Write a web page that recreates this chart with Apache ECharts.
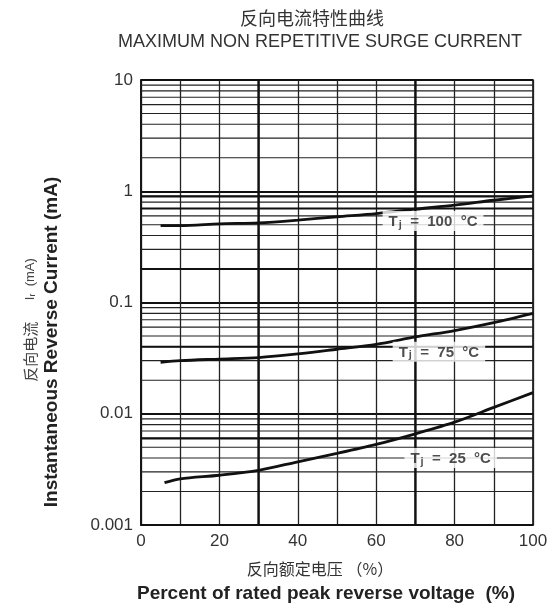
<!DOCTYPE html>
<html>
<head>
<meta charset="utf-8">
<script src="https://cdn.jsdelivr.net/npm/echarts@6/dist/echarts.min.js"></script>
<style>
html,body{margin:0;padding:0;background:#fff;}
#chart{width:553px;height:609px;}
</style>
</head>
<body>
<div id="chart"></div>
<script>
// ---- Data ----
var titleCn = '反向电流特性曲线';
var titleEn = 'MAXIMUM NON REPETITIVE SURGE CURRENT';
var xNameCn = '反向额定电压 （%）';
var xNameEn = 'Percent of rated peak reverse voltage  (%)';
var yNameEn = 'Instantaneous Reverse Current (mA)';
var yNameCn = '反向电流';

var yTickValues = [0.001, 0.01, 0.1, 1, 10];
var yTickLabels = ['0.001', '0.01', '0.1', '1', '10'];
var xTickValues = [0, 20, 40, 60, 80, 100];
var xTickLabels = ['0', '20', '40', '60', '80', '100'];

var x100 = [5, 10, 20, 30, 40, 50, 60, 70, 80, 90, 100];
var y100 = [0.49, 0.49, 0.51, 0.52, 0.55, 0.59, 0.63, 0.69, 0.75, 0.83, 0.91];

var x75 = [5, 10, 20, 30, 40, 50, 60, 70, 80, 90, 100];
var y75 = [0.029, 0.030, 0.031, 0.032, 0.0345, 0.038, 0.042, 0.049, 0.056, 0.066, 0.080];

var x25 = [6, 10, 20, 30, 40, 50, 60, 70, 80, 90, 100];
var y25 = [0.0024, 0.0026, 0.0028, 0.0031, 0.0037, 0.0044, 0.0053, 0.0066, 0.0084, 0.0114, 0.0155];

var curveLabels = ['100', '75', '25'];
var labelX = [74.5, 76, 79];
var labelY = [0.54, 0.036, 0.0040];

// log-grid minor multipliers and decades
var minorMultipliers = [2, 3, 4, 5, 6, 7, 8, 9];
var decades = [0.001, 0.01, 0.1, 1];
var heavyMinor = [0.9, 0.7, 0.2, 0.04, 0.006];
var heavyVertical = [30, 70];

function zip(xs, ys) { return xs.map(function (x, i) { return [x, ys[i]]; }); }

var minorValues = [];
decades.forEach(function (d) {
  minorMultipliers.forEach(function (m) { minorValues.push(+(d * m).toPrecision(3)); });
});

var chart = echarts.init(document.getElementById('chart'), null, { renderer: 'canvas' });
var FONT = '"Liberation Sans", Arial, sans-serif';
var CJK = '"Noto Sans CJK SC", sans-serif';

function gridLine(p1, p2, width, color) {
  return {
    type: 'line', data: [p1, p2], symbol: 'none', silent: true, z: 1,
    lineStyle: { color: color, width: width }, animation: false
  };
}

function curveSeries(name, data) {
  return {
    name: name, type: 'line', data: data, smooth: 0.3, symbol: 'none',
    lineStyle: { color: '#111', width: 2.8 }, z: 5
  };
}

var series = [];
minorValues.forEach(function (v) { series.push(gridLine([0, v], [100, v], 1.2, '#222')); });
heavyMinor.forEach(function (v) { series.push(gridLine([0, v], [100, v], 2.2, '#111')); });
heavyVertical.forEach(function (v) { series.push(gridLine([v, 0.001], [v, 10], 2.4, '#111')); });
series.push(curveSeries('Tj=100', zip(x100, y100)));
series.push(curveSeries('Tj=75', zip(x75, y75)));
series.push(curveSeries('Tj=25', zip(x25, y25)));
series.push({
  type: 'scatter', z: 10, silent: true, symbolSize: 0,
  data: curveLabels.map(function (t, i) { return { value: [labelX[i], labelY[i]], name: t }; }),
  label: {
    show: true, position: 'inside',
    backgroundColor: '#fff', padding: [2, 6, 1, 6],
    formatter: function (p) { return '{a|T}{b|j}{a|  =  ' + p.name + '  °C}'; },
    rich: {
      a: { fontSize: 15, fontWeight: 'bold', color: '#222', fontFamily: FONT },
      b: { fontSize: 11, fontWeight: 'bold', color: '#222', fontFamily: FONT, verticalAlign: 'bottom', padding: [6, 0, 0, 1] }
    }
  }
});

var option = {
  backgroundColor: '#fff',
  animation: false,
  grid: { left: 141, right: 20, top: 80, bottom: 84, show: true, borderColor: '#111', borderWidth: 1.6, backgroundColor: 'transparent' },
  xAxis: {
    type: 'value', min: 0, max: 100, interval: 10,
    axisLine: { show: true, lineStyle: { color: '#111', width: 1.6 } },
    axisTick: { show: false },
    axisLabel: {
      color: '#333', fontSize: 17, fontFamily: FONT, margin: 8,
      formatter: function (v) { var i = xTickValues.indexOf(v); return i >= 0 ? xTickLabels[i] : ''; }
    },
    splitLine: { show: true, lineStyle: { color: '#222', width: 1.3 } }
  },
  yAxis: {
    type: 'log', logBase: 10, min: 0.001, max: 10,
    axisLine: { show: true, lineStyle: { color: '#111', width: 1.6 } },
    axisTick: { show: false },
    axisLabel: {
      color: '#333', fontSize: 17, fontFamily: FONT, margin: 8,
      formatter: function (v) {
        var k = Math.round(Math.log10(v));
        for (var i = 0; i < yTickValues.length; i++) {
          if (Math.round(Math.log10(yTickValues[i])) === k) return yTickLabels[i];
        }
        return '';
      }
    },
    splitLine: { show: true, lineStyle: { color: '#111', width: 2 } }
  },
  series: series,
  graphic: [
    { type: 'text', x: 312, y: 18, style: { text: titleCn, font: '18px ' + CJK, fill: '#333', align: 'center', verticalAlign: 'middle' } },
    { type: 'text', x: 320, y: 42, style: { text: titleEn, font: '18px ' + FONT, fill: '#333', align: 'center', verticalAlign: 'middle' } },
    { type: 'text', x: 320, y: 569, style: { text: xNameCn, font: '16px ' + CJK, fill: '#333', align: 'center', verticalAlign: 'middle' } },
    { type: 'text', x: 326, y: 594, style: { text: xNameEn, font: 'bold 19px ' + FONT, fill: '#222', align: 'center', verticalAlign: 'middle' } },
    { type: 'text', x: 52, y: 342, rotation: Math.PI / 2, style: { text: yNameEn, font: 'bold 19px ' + FONT, fill: '#222', align: 'center', verticalAlign: 'middle' } },
    { type: 'text', x: 30, y: 320, rotation: Math.PI / 2, style: {
        text: '{c|' + yNameCn + '}{s|      }{i|I}{r|r}{i|  (mA)}',
        rich: {
          c: { font: '15px ' + CJK, fill: '#444' },
          s: { font: '13px ' + FONT, fill: '#444' },
          i: { font: '13px ' + FONT, fill: '#444' },
          r: { font: '9px ' + FONT, fill: '#444', verticalAlign: 'bottom' }
        },
        align: 'center', verticalAlign: 'middle' } }
  ]
};
chart.setOption(option);
</script>
</body>
</html>
